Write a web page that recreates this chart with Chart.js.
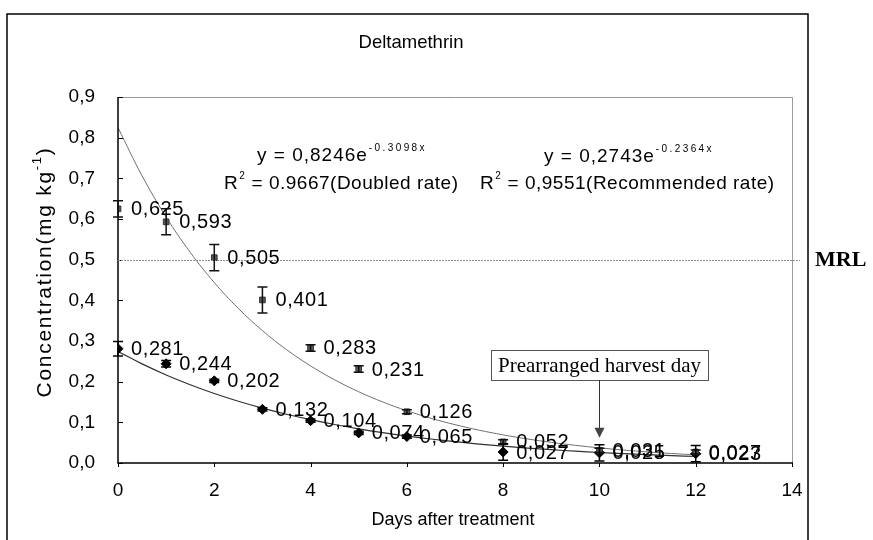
<!DOCTYPE html>
<html>
<head>
<meta charset="utf-8">
<script src="https://cdn.jsdelivr.net/npm/chart.js@4.4.1/dist/chart.umd.min.js"></script>
<style>
  html, body { margin: 0; padding: 0; background: #fff; }
  #wrap { width: 873px; height: 540px; position: relative; }
</style>
</head>
<body>
<div id="wrap"><canvas id="c" width="873" height="540"></canvas></div>
<script>
// ---- data ----
const days = [0, 1, 2, 3, 4, 5, 6, 8, 10, 12];
const doubledRate = [0.625, 0.593, 0.505, 0.401, 0.283, 0.231, 0.126, 0.052, 0.031, 0.027];
const doubledErr  = [0.020, 0.032, 0.032, 0.032, 0.008, 0.008, 0.005, 0.005, 0.005, 0.005];
const recommendedRate = [0.281, 0.244, 0.202, 0.132, 0.104, 0.074, 0.065, 0.027, 0.025, 0.023];
const recommendedErr  = [0.018, 0.008, 0.004, 0.004, 0.004, 0.004, 0.004, 0.020, 0.020, 0.020];
// exponential trend lines y = a * e^(b x)
const doubledFit = [0.8246, -0.3098];
const recommendedFit = [0.2743, -0.2364];
const fitDays = [0, 0.5, 1, 1.5, 2, 2.5, 3, 3.5, 4, 4.5, 5, 5.5, 6, 6.5, 7, 7.5, 8, 8.5, 9, 9.5, 10, 10.5, 11, 11.5, 12];
const xTicks = [0, 2, 4, 6, 8, 10, 12, 14];
const yTicks = [0, 0.1, 0.2, 0.3, 0.4, 0.5, 0.6, 0.7, 0.8, 0.9];
const MRL = 0.5;
const harvestDay = 10;

const SANS = '"Liberation Sans", Arial, sans-serif';
const SERIF = '"Liberation Serif", "Times New Roman", serif';
const comma = v => v.toFixed(3).replace('.', ',');

const toPts = (xs, ys) => xs.map((x, i) => ({ x: x, y: ys[i] }));
const fitPts = (f) => fitDays.map(x => ({ x: x, y: f[0] * Math.exp(f[1] * x) }));

function spaced(ctx, px) { try { ctx.letterSpacing = px + 'px'; } catch (e) {} }

const decor = {
  id: 'decor',
  afterDatasetsDraw(chart) {
    const ctx = chart.ctx;
    const xs = chart.scales.x, ys = chart.scales.y;
    const a = chart.chartArea;
    ctx.save();
    // plot frame: top/right gray, left/bottom black
    ctx.strokeStyle = '#9a9a9a'; ctx.lineWidth = 1;
    ctx.beginPath();
    ctx.moveTo(a.left, a.top + 0.5); ctx.lineTo(a.right + 0.5, a.top + 0.5); ctx.lineTo(a.right + 0.5, a.bottom);
    ctx.stroke();
    ctx.strokeStyle = '#000'; ctx.lineWidth = 1.5;
    ctx.beginPath();
    ctx.moveTo(a.left, a.top); ctx.lineTo(a.left, a.bottom); ctx.lineTo(a.right + 1, a.bottom);
    ctx.stroke();
    // ticks
    ctx.lineWidth = 1;
    yTicks.forEach(v => {
      const y = Math.round(ys.getPixelForValue(v)) + 0.5;
      ctx.beginPath(); ctx.moveTo(a.left, y); ctx.lineTo(a.left + 5, y); ctx.stroke();
    });
    xTicks.forEach(v => {
      const x = Math.round(xs.getPixelForValue(v)) + 0.5;
      ctx.beginPath(); ctx.moveTo(x, a.bottom); ctx.lineTo(x, a.bottom + 4); ctx.stroke();
    });
    // MRL line
    const my = Math.round(ys.getPixelForValue(MRL)) + 0.5;
    ctx.strokeStyle = '#8a8a8a'; ctx.lineWidth = 1; ctx.setLineDash([2, 1]);
    ctx.beginPath(); ctx.moveTo(a.left, my); ctx.lineTo(a.right + 8, my); ctx.stroke();
    ctx.setLineDash([]);
    // error bars
    const bars = (vals, errs, color) => {
      ctx.strokeStyle = color; ctx.lineWidth = 1.5;
      days.forEach((d, i) => {
        const x = xs.getPixelForValue(d);
        const y1 = ys.getPixelForValue(Math.max(0, vals[i] - errs[i]));
        const y2 = ys.getPixelForValue(vals[i] + errs[i]);
        ctx.beginPath();
        ctx.moveTo(x, y1); ctx.lineTo(x, y2);
        ctx.moveTo(x - 5, y1); ctx.lineTo(x + 5, y1);
        ctx.moveTo(x - 5, y2); ctx.lineTo(x + 5, y2);
        ctx.stroke();
      });
    };
    bars(doubledRate, doubledErr, '#111');
    bars(recommendedRate, recommendedErr, '#000');
    // data labels
    ctx.fillStyle = '#000'; ctx.font = '20px ' + SANS; ctx.textBaseline = 'middle'; ctx.textAlign = 'left';
    spaced(ctx, 0.6);
    days.forEach((d, i) => {
      ctx.fillText(comma(doubledRate[i]), xs.getPixelForValue(d) + 13, ys.getPixelForValue(doubledRate[i]) + 1);
    });
    days.forEach((d, i) => {
      ctx.fillText(comma(recommendedRate[i]), xs.getPixelForValue(d) + 13, ys.getPixelForValue(recommendedRate[i]) + 1);
    });
    spaced(ctx, 0);
    // harvest-day annotation
    const hx = Math.round(xs.getPixelForValue(harvestDay)) + 0.5;
    ctx.font = '21px ' + SERIF;
    const label = 'Prearranged harvest day';
    const tw = ctx.measureText(label).width;
    const bw = tw + 14, bh = 30, bt = 350;
    ctx.fillStyle = '#fff';
    ctx.fillRect(hx - bw / 2, bt, bw, bh);
    ctx.strokeStyle = '#555'; ctx.lineWidth = 1;
    ctx.strokeRect(Math.round(hx - bw / 2) + 0.5, bt + 0.5, Math.round(bw), bh);
    ctx.fillStyle = '#000'; ctx.textAlign = 'center';
    ctx.fillText(label, hx, bt + bh / 2 + 1);
    const tipY = ys.getPixelForValue(0.062);
    ctx.strokeStyle = '#333';
    ctx.beginPath(); ctx.moveTo(hx, bt + bh); ctx.lineTo(hx, tipY - 6); ctx.stroke();
    ctx.fillStyle = '#444';
    ctx.beginPath(); ctx.moveTo(hx - 5, tipY - 10); ctx.lineTo(hx + 5, tipY - 10); ctx.lineTo(hx, tipY); ctx.closePath(); ctx.fill();
    ctx.restore();
  },
  afterDraw(chart) {
    const ctx = chart.ctx;
    const a = chart.chartArea;
    ctx.save();
    // outer frame
    ctx.strokeStyle = '#000'; ctx.lineWidth = 1.5;
    ctx.beginPath();
    ctx.moveTo(7, 540); ctx.lineTo(7, 14); ctx.lineTo(808, 14); ctx.lineTo(808, 540);
    ctx.stroke();
    ctx.fillStyle = '#000';
    ctx.textBaseline = 'middle';
    // chart title
    ctx.font = '18.5px ' + SANS; ctx.textAlign = 'center';
    ctx.fillText('Deltamethrin', 411, 43);
    // axis titles
    ctx.font = '18px ' + SANS;
    ctx.fillText('Days after treatment', (a.left + a.right) / 2 - 2, 520);
    ctx.save();
    ctx.translate(45, 272); ctx.rotate(-Math.PI / 2);
    const t1 = 'Concentration(mg kg', sup = '-1', t2 = ')';
    spaced(ctx, 1.7);
    ctx.font = '21px ' + SANS;
    const w1 = ctx.measureText(t1).width, w2 = ctx.measureText(t2).width;
    ctx.font = '13px ' + SANS;
    const ws = ctx.measureText(sup).width;
    const total = w1 + ws + w2;
    let sx = -total / 2;
    ctx.textAlign = 'left';
    ctx.font = '21px ' + SANS; ctx.fillText(t1, sx, 0); sx += w1;
    ctx.font = '13px ' + SANS; ctx.fillText(sup, sx, -8); sx += ws;
    ctx.font = '21px ' + SANS; ctx.fillText(t2, sx, 0);
    spaced(ctx, 0);
    ctx.restore();
    // MRL label
    ctx.font = 'bold 22px ' + SERIF; ctx.textAlign = 'left';
    ctx.fillText('MRL', 815, 260);
    // equations
    const eq = (x, y, base, sup, rest, baseSpacing, supSpacing) => {
      ctx.textAlign = 'left';
      spaced(ctx, baseSpacing);
      ctx.font = '19px ' + SANS; ctx.fillText(base, x, y);
      let w = ctx.measureText(base).width;
      spaced(ctx, supSpacing);
      ctx.font = '10px ' + SANS; ctx.fillText(sup, x + w + 1, y - 8);
      w += ctx.measureText(sup).width + 2;
      spaced(ctx, 0.5);
      if (rest) { ctx.font = '19px ' + SANS; ctx.fillText(rest, x + w, y); }
      spaced(ctx, 0);
    };
    eq(257, 156, 'y = 0,8246e', '-' + Math.abs(doubledFit[1]).toFixed(4) + 'x', '', 1.0, 2.4);
    eq(224, 184, 'R', '2', ' = 0.9667(Doubled rate)', 0.5, 0);
    eq(544, 157, 'y = 0,2743e', '-' + Math.abs(recommendedFit[1]).toFixed(4) + 'x', '', 1.0, 2.4);
    eq(480, 184, 'R', '2', ' = 0,9551(Recommended rate)', 0.5, 0);
    ctx.restore();
  }
};

new Chart(document.getElementById('c'), {
  type: 'scatter',
  data: {
    datasets: [
      { label: 'Doubled rate', data: toPts(days, doubledRate), pointStyle: 'rect', pointRadius: 4,
        backgroundColor: '#5a5a5a', borderColor: '#333', borderWidth: 1, showLine: false, order: 1 },
      { label: 'Recommended rate', data: toPts(days, recommendedRate), pointStyle: 'rectRot', pointRadius: 5,
        backgroundColor: '#000', borderColor: '#000', borderWidth: 1, showLine: false, order: 1 },
      { label: 'Doubled fit', data: fitPts(doubledFit), showLine: true, pointRadius: 0,
        borderColor: '#707070', borderWidth: 1, tension: 0.4, order: 2 },
      { label: 'Recommended fit', data: fitPts(recommendedFit), showLine: true, pointRadius: 0,
        borderColor: '#333', borderWidth: 1.2, tension: 0.4, order: 2 }
    ]
  },
  options: {
    responsive: false,
    animation: false,
    events: [],
    layout: { padding: { left: 0, top: 97, right: 81, bottom: 0 } },
    plugins: { legend: { display: false }, title: { display: false }, tooltip: { enabled: false } },
    scales: {
      x: {
        type: 'linear', min: 0, max: 14,
        afterFit: s => { s.height = 77; },
        afterBuildTicks: s => { s.ticks = xTicks.map(v => ({ value: v })); },
        ticks: { color: '#000', font: { family: SANS, size: 19 }, padding: 16, callback: v => String(v) },
        grid: { display: false, drawTicks: false },
        border: { display: false }
      },
      y: {
        type: 'linear', min: 0, max: 0.9,
        afterFit: s => { s.width = 118; },
        afterBuildTicks: s => { s.ticks = yTicks.map(v => ({ value: v })); },
        ticks: { color: '#000', font: { family: SANS, size: 19 }, padding: 23,
                 callback: v => v.toFixed(1).replace('.', ',') },
        grid: { display: false, drawTicks: false },
        border: { display: false }
      }
    }
  },
  plugins: [decor]
});
</script>
</body>
</html>
